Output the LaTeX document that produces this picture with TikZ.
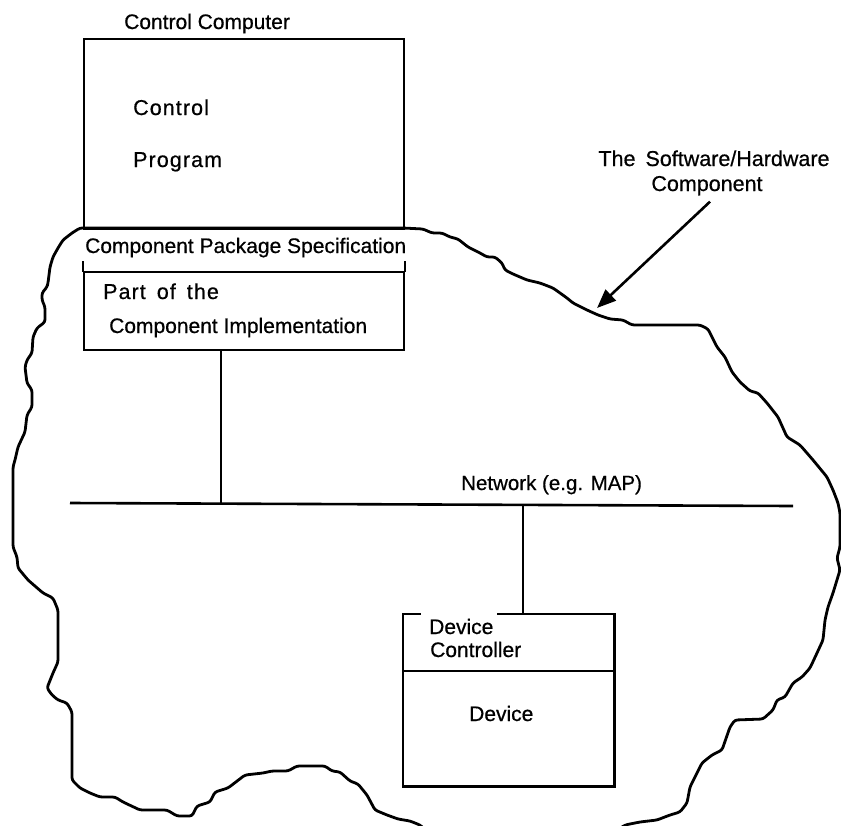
\documentclass[tikz,border=0pt]{standalone}
\usepackage{fontspec}
\setmainfont{Liberation Sans}[FakeBold=0.6]
\usetikzlibrary{arrows.meta}
\begin{document}
\begin{tikzpicture}[x=1pt,y=-1pt,
  box/.style={draw, line width=2.2pt, inner sep=0pt},
  boxline/.style={line width=2.2pt, line cap=rect},
  conn/.style={line width=1.9pt},
  net/.style={line width=2.6pt},
  cloud/.style={line width=2.8pt, rounded corners=2.5pt, line join=round},
  pointer/.style={line width=2.6pt, -{Triangle[length=19pt,width=15pt]}},
  lbl/.style={inner sep=0pt, anchor=base west, font=\fontsize{21}{25}\selectfont},
  spaced/.style={font=\fontsize{21.5}{25}\selectfont\addfontfeatures{LetterSpace=5}}]
\clip (0,0) rectangle (841,825);
% cloud outline of the component
\draw[cloud] (80,228) -- (403,228) -- (423,229) -- (432,233) -- (442,233) -- (450,237) -- (458,239) -- (468,247) -- (480,253) -- (487,257) -- (495,257) -- (502,263) -- (505,270) -- (513,274) -- (527,280) -- (540,283) -- (553,288) -- (567,298) -- (573,303) -- (587,310) -- (598,315) -- (610,319) -- (623,320) -- (632,325) -- (647,325) -- (700,325) -- (708,329) -- (712,337) -- (717,347) -- (725,357) -- (732,372) -- (740,382) -- (750,391) -- (758,393) -- (767,403) -- (778,417) -- (787,437) -- (800,445) -- (813,460) -- (827,477) -- (833,490) -- (838,503) -- (840,513) -- (840,547) -- (837,558) -- (840,570) -- (833,593) -- (828,607) -- (825,620) -- (823,640) -- (817,653) -- (810,668) -- (802,677) -- (793,683) -- (785,697) -- (777,700) -- (773,710) -- (763,719) -- (735,720) -- (730,727) -- (722,750) -- (712,755) -- (702,763) -- (697,773) -- (690,787) -- (687,803) -- (680,812) -- (670,815) -- (657,820) -- (640,822) -- (625,825) -- (612,834) -- (430,834) -- (420,825) -- (410,821) -- (398,819) -- (387,815) -- (375,810) -- (367,795) -- (358,784) -- (350,781) -- (340,772) -- (332,771) -- (325,766) -- (297,766) -- (288,771) -- (272,771) -- (263,773) -- (245,775) -- (228,788) -- (215,792) -- (210,802) -- (197,806) -- (192,816) -- (177,816) -- (167,810) -- (140,810) -- (123,802) -- (115,797) -- (100,797) -- (90,793) -- (80,788) -- (72,780) -- (72,712) -- (67,703) -- (58,700) -- (52,695) -- (47,688) -- (53,673) -- (58,662) -- (58,610) -- (53,598) -- (43,593) -- (28,580) -- (18,568) -- (17,557) -- (13,547) -- (13,467) -- (15,460) -- (18,447) -- (25,432) -- (27,415) -- (32,407) -- (32,390) -- (27,383) -- (25,367) -- (27,360) -- (32,353) -- (33,337) -- (37,328) -- (45,322) -- (45,307) -- (42,300) -- (42,293) -- (47,287) -- (48,283) -- (50,267) -- (53,257) -- (58,248) -- (63,240) -- (72,233) -- cycle;
% control computer
\node[box, anchor=north west, minimum width=320pt, minimum height=190pt] (cc) at (83,38) {};
\node[lbl] (cctitle) at (124,29) {Control Computer};
\node[lbl, spaced] (ctrl) at (133,115) {Control};
\node[lbl, spaced] (prg) at (133,167) {Program};
\node[lbl] (cps) at (85,253) {Component Package Specification};
% implementation part
\node[box, anchor=north west, minimum width=320pt, minimum height=78pt] (impl) at (83,271) {};
\draw[boxline] (impl.north west) -- ++(0,-9);
\draw[boxline] (impl.north east) -- ++(0,-9);
\node[lbl, spaced] (part) at (103,299) {Part\hspace{11pt}of\hspace{11pt}the};
\node[lbl] (cimpl) at (109,333) {Component Implementation};
% network
\coordinate (netL) at (70,503);
\coordinate (netR) at (793,506);
\draw[net] (netL) -- (netR);
\coordinate (tapA) at (221,503.5);
\coordinate (tapB) at (523,505);
\draw[conn] (impl.south -| tapA) -- (tapA);
\node[lbl, font=\fontsize{20.5}{25}\selectfont] (netlbl) at (461,490) {Network (e.g. MAP)};
% device
\node[anchor=north west, minimum width=211pt, minimum height=172pt, inner sep=0pt] (dev) at (403,614) {};
\draw[boxline] ([xshift=17pt]dev.north west) -- (dev.north west) -- (dev.south west) -- (dev.south east) -- (dev.north east) -- ([xshift=95pt]dev.north west);
\draw[boxline] ([yshift=-57pt]dev.north west) -- ([yshift=-57pt]dev.north east);
\draw[conn] (tapB) -- (tapB |- dev.north);
\node[lbl] (dc1) at (429,634) {Device};
\node[lbl] (dc2) at (430,657) {Controller};
\node[lbl] (devlbl) at (469,721) {Device};
% label and pointer
\node[lbl, anchor=base, font=\fontsize{21.5}{25}\selectfont] (sw1) at (714,166) {The\hspace{10pt}Software/Hardware};
\node[lbl, anchor=base, font=\fontsize{21.5}{25}\selectfont] (sw2) at (707,191) {Component};
\coordinate (hit) at (597,308);
\draw[pointer] ([xshift=3pt,yshift=-6pt]sw2.south) -- (hit);
\end{tikzpicture}
\end{document}
